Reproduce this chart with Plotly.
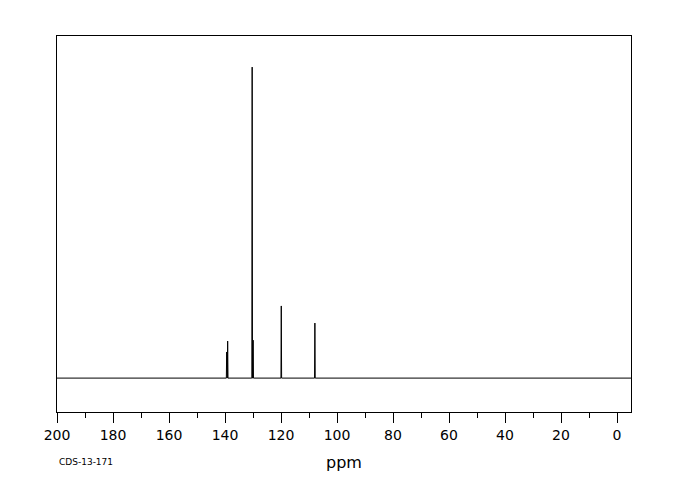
import plotly.graph_objects as go

# pics du spectre (ppm, intensité relative)
peak_ppm = [139.4, 139.05, 130.3, 129.95, 119.9, 107.9]
peak_int = [8.4, 11.9, 100.0, 12.2, 23.2, 17.7]

x_range = [200, -5]
tick_vals = [200, 180, 160, 140, 120, 100, 80, 60, 40, 20, 0]
tick_text = [str(v) for v in tick_vals]

# trace en bâtons : ligne de base + pics
half_w = 0.12
xs = [x_range[0]]
ys = [0]
for p, h in sorted(zip(peak_ppm, peak_int), reverse=True):
    xs += [p + half_w, p, p - half_w]
    ys += [0, h, 0]
xs.append(x_range[1])
ys.append(0)

fig = go.Figure()
fig.add_trace(go.Scatter(x=xs, y=ys, mode="lines",
                         line=dict(color="black", width=1), showlegend=False,
                         hoverinfo="skip"))

fig.update_layout(
    width=680, height=500,
    margin=dict(l=49, r=57, t=28, b=96),
    paper_bgcolor="white", plot_bgcolor="white",
    font=dict(family="DejaVu Sans", color="black"),
    annotations=[
        dict(text="ppm", x=0.5, y=-0.135, xref="paper", yref="paper",
             showarrow=False, font=dict(size=16), yanchor="middle"),
        dict(text="CDS-13-171", x=0.0, y=-0.133, xref="paper", yref="paper",
             showarrow=False, font=dict(size=9), xanchor="left", yanchor="middle"),
    ],
)
fig.update_xaxes(
    range=x_range, tickvals=tick_vals, ticktext=tick_text,
    ticks="outside", ticklen=10, tickwidth=1, tickcolor="black",
    minor=dict(dtick=10, ticks="outside", ticklen=5, tickwidth=1, tickcolor="black"),
    showline=True, linecolor="black", linewidth=1, mirror=True,
    showgrid=False, zeroline=False, tickfont=dict(size=14),
)
fig.update_yaxes(
    range=[-10.9, 110], showticklabels=False, ticks="",
    showline=True, linecolor="black", linewidth=1, mirror=True,
    showgrid=False, zeroline=False,
)

fig.write_html("out.html")
